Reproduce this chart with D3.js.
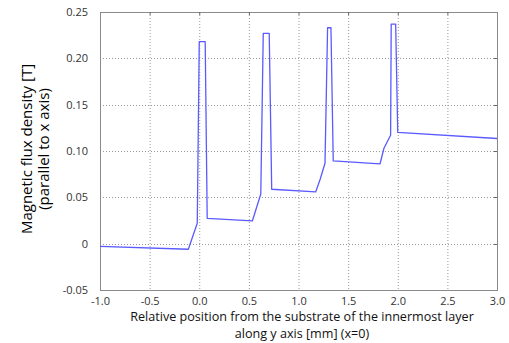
<!DOCTYPE html>
<html>
<head>
<meta charset="utf-8">
<script src="https://cdn.jsdelivr.net/npm/d3@7"></script>
<style>
  html, body { margin: 0; padding: 0; background: #fff; }
  svg { display: block; }
</style>
</head>
<body>
<svg id="chart" width="509" height="343"></svg>
<script>
// Flux density profile along the y axis (x = 0)
const positionMm = [-1.0, -0.11, -0.02, 0.0, 0.06, 0.08, 0.535, 0.62, 0.645, 0.705, 0.73, 1.173, 1.22, 1.267, 1.293, 1.327, 1.35, 1.821, 1.861, 1.928, 1.934, 1.979, 2.0, 3.0];
const fluxT      = [-0.003, -0.006, 0.022, 0.218, 0.218, 0.0274, 0.0245, 0.0536, 0.227, 0.227, 0.0587, 0.0558, 0.0700, 0.0868, 0.233, 0.233, 0.0893, 0.086, 0.103, 0.117, 0.237, 0.237, 0.120, 0.1135];

const xTicks = [-1.0, -0.5, 0.0, 0.5, 1.0, 1.5, 2.0, 2.5, 3.0];
const xTickLabels = ["-1.0", "-0.5", "0.0", "0.5", "1.0", "1.5", "2.0", "2.5", "3.0"];
const yTicks = [-0.05, 0, 0.05, 0.10, 0.15, 0.20, 0.25];
const yTickLabels = ["-0.05", "0", "0.05", "0.10", "0.15", "0.20", "0.25"];

const svg = d3.select("#chart");
const plot = { left: 100, right: 497, top: 12, bottom: 290 };
const font = "'Open Sans', 'DejaVu Sans', sans-serif";

const x = d3.scaleLinear().domain([-1, 3]).range([plot.left, plot.right]);
const y = d3.scaleLinear().domain([-0.05, 0.25]).range([plot.bottom, plot.top]);

// dotted grid
const grid = svg.append("g");
grid.selectAll("line.vx").data(xTicks.slice(1, -1)).join("line")
  .attr("x1", d => x(d) + 0.5).attr("x2", d => x(d) + 0.5)
  .attr("y1", plot.top).attr("y2", plot.bottom)
  .attr("stroke", "#9a9a9a").attr("stroke-width", 1).attr("stroke-dasharray", "1,2");
grid.selectAll("line.hy").data(yTicks.slice(1, -1)).join("line")
  .attr("x1", plot.left).attr("x2", plot.right)
  .attr("y1", d => Math.round(y(d)) + 0.5).attr("y2", d => Math.round(y(d)) + 0.5)
  .attr("stroke", "#9a9a9a").attr("stroke-width", 1).attr("stroke-dasharray", "1,2");

// frame
svg.append("rect")
  .attr("x", plot.left + 0.5).attr("y", plot.top + 0.5)
  .attr("width", plot.right - plot.left).attr("height", plot.bottom - plot.top)
  .attr("fill", "none").attr("stroke", "#8a8a8a").attr("stroke-width", 1);

// small inner ticks on top and right edges
svg.append("g").selectAll("line").data(xTicks.slice(1, -1)).join("line")
  .attr("x1", d => x(d) + 0.5).attr("x2", d => x(d) + 0.5)
  .attr("y1", plot.top).attr("y2", plot.top + 3)
  .attr("stroke", "#666");
svg.append("g").selectAll("line").data(yTicks.slice(1, -1)).join("line")
  .attr("x1", plot.right - 3).attr("x2", plot.right)
  .attr("y1", d => Math.round(y(d)) + 0.5).attr("y2", d => Math.round(y(d)) + 0.5)
  .attr("stroke", "#666");

// axes (labels only; frame drawn above)
const xAxis = d3.axisBottom(x).tickValues(xTicks)
  .tickFormat((d, i) => xTickLabels[i]).tickSize(0).tickPadding(7);
const gx = svg.append("g").attr("transform", `translate(0,${plot.bottom})`).call(xAxis);
gx.select(".domain").remove();
gx.selectAll("text").attr("font-family", font).attr("font-size", 11).attr("fill", "#333");

const yAxis = d3.axisLeft(y).tickValues(yTicks)
  .tickFormat((d, i) => yTickLabels[i]).tickSize(0).tickPadding(12);
const gy = svg.append("g").attr("transform", `translate(${plot.left},0)`).call(yAxis);
gy.select(".domain").remove();
gy.selectAll("text").attr("font-family", font).attr("font-size", 11).attr("fill", "#333");

// data line
const line = d3.line().x(d => x(d[0])).y(d => y(d[1]));
const pts = positionMm.map((p, i) => [p, fluxT[i]]);
svg.append("path").datum(pts)
  .attr("d", line)
  .attr("fill", "none")
  .attr("stroke", "#5a5aff")
  .attr("stroke-width", 1.3)
  .attr("stroke-linejoin", "round");

// axis titles
const yt = svg.append("text")
  .attr("transform", "translate(32,149) rotate(-90)")
  .attr("text-anchor", "middle")
  .attr("font-family", font).attr("font-size", 15).attr("fill", "#000");
yt.append("tspan").attr("x", 0).attr("dy", 0).text("Magnetic flux density [T]");
yt.append("tspan").attr("x", 0).attr("dy", 17).text("(parallel to x axis)");

const xt = svg.append("text")
  .attr("text-anchor", "middle")
  .attr("font-family", font).attr("font-size", 12.6).attr("fill", "#111");
xt.append("tspan").attr("x", 302).attr("y", 321).text("Relative position from the substrate of the innermost layer");
xt.append("tspan").attr("x", 302).attr("y", 338).text("along y axis [mm] (x=0)");
</script>
</body>
</html>
